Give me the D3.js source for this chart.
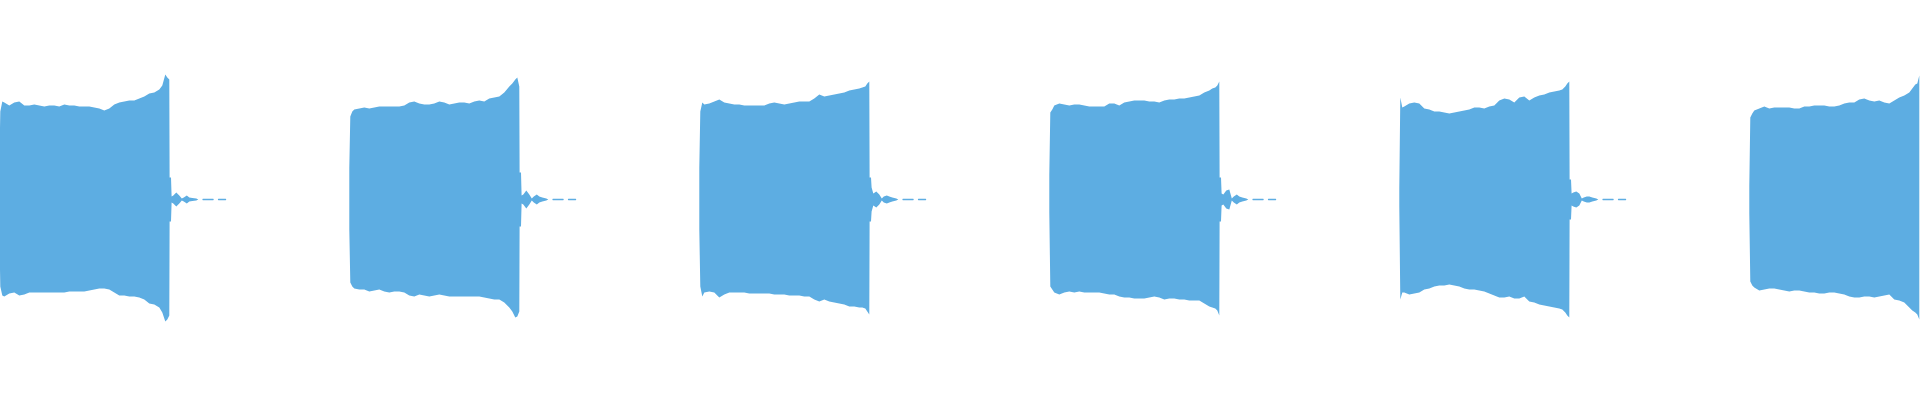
<!DOCTYPE html>
<html>
<head>
<meta charset="utf-8">
<script src="https://cdn.jsdelivr.net/npm/d3@7"></script>
<style>
    html, body { margin: 0; padding: 0; background: #ffffff; overflow: hidden; }
    #wave { width: 1920px; height: 400px; }
</style>
</head>
<body>
<div id="wave"></div>
<script>
(function() {

    // recording length and where each of the six notes starts (ms)
    var durationMs = 3840;
    var clipStarts = [0, 700, 1400, 2100, 2800, 3500];

    // offsets inside a note (ms) at which the peak envelope was read
    var bodyOffsets = [0, 2, 6, 10, 20, 30, 40, 50, 60, 70, 80, 90, 100, 110, 120, 130, 140, 150, 160,
                       170, 180, 190, 200, 210, 220, 230, 240, 250, 260, 270, 280, 290, 300, 310, 320,
                       326, 332, 336, 340];

    // ring-out after the note is cut (ms)
    var tailOffsets = [340.6, 343.4, 344.6, 348, 354, 360, 365, 369, 375, 380, 386, 394, 398,
                       406, 407, 428, 429, 437, 438, 453, 454];

    // peak levels, % of full scale (max above zero / min below zero)
    var clip1Top = [16, 44, 49, 48.5, 47, 48.5, 49, 47, 47, 47.5, 47, 46.5, 47, 47, 46.5, 47.5, 47, 47, 46.5,
                    46.5, 46.5, 46, 45.5, 44.5, 45.5, 47.5, 48.5, 49, 49.5, 49.5, 50.5, 51.5, 53, 53.5, 55,
                    57, 62.5, 61, 60];
    var clip1Bottom = [-15, -43.5, -48, -48.5, -47, -46.5, -48, -47.5, -46.5, -46.5, -46.5, -46.5, -46.5, -46.5, -46.5, -46.5, -46, -46, -46,
                       -46, -45.5, -45, -44.5, -44.5, -45, -46.5, -48, -48, -48.5, -48.5, -49, -50, -52, -52.5, -54,
                       -56.5, -61, -60, -58];
    var clip1Tail = [11, 11, 1.5, 2, 3.5, 2, 0.5, 1, 2, 1, 0.75, 0.5, 0, 0, 0.4, 0.4, 0, 0, 0.4, 0.4, 0];

    var clip2Top = [16, 41.5, 44, 45, 45.5, 46, 45.5, 46, 46.5, 46.5, 46.5, 46.5, 46.5, 47, 48.5, 49, 48, 47.5, 47.5,
                    48, 49, 48.5, 47.5, 48, 48.5, 48.5, 48, 49, 49.5, 49, 50.5, 51, 51.5, 53.5, 56.5,
                    58, 60, 61, 56.5];
    var clip2Bottom = [-15, -41.5, -43.5, -44.5, -45, -45, -46, -45.5, -45, -46, -46.5, -46, -46, -46.5, -48, -48.5, -47.5, -48, -48.5,
                       -48, -47.5, -48, -48.5, -48.5, -48.5, -48.5, -48.5, -48.5, -48.5, -49, -49.5, -50, -50, -51.5, -54,
                       -56, -59, -58.5, -56];
    var clip2Tail = [13.5, 13.5, 2, 2.5, 4.5, 2.5, 0.5, 1.5, 2.5, 1.5, 1, 0.5, 0, 0, 0.4, 0.4, 0, 0, 0.4, 0.4, 0];

    var clip3Top = [16, 44, 48.5, 47.5, 48, 49, 50, 48.5, 48, 47.5, 47.5, 47, 47, 47, 47, 47, 48, 48.5, 48,
                    47.5, 48, 48.5, 49, 49, 49, 50.5, 52.5, 51.5, 52, 52.5, 53, 53.5, 54.5, 55, 55.5,
                    56, 56.5, 58, 59];
    var clip3Bottom = [-15, -43.5, -48.5, -46.5, -46, -46.5, -49, -47.5, -46.5, -46.5, -46.5, -46.5, -47, -47, -47, -47, -47, -47.5, -47.5,
                       -47.5, -48, -48, -48, -48.5, -48.5, -50, -51, -50, -51, -51.5, -52, -52.5, -53.5, -53.5, -54,
                       -54, -54.5, -56, -57.5];
    var clip3Tail = [11, 11, 6, 3, 4, 2.5, 0.5, 1.5, 2, 1.5, 1, 0.5, 0, 0, 0.4, 0.4, 0, 0, 0.4, 0.4, 0];

    var clip4Top = [12.5, 43.5, 45, 47, 48, 47.5, 47, 47.5, 47.5, 47, 46.5, 46.5, 46.5, 46.5, 48, 48, 47, 48.5, 49,
                    49.5, 49.5, 49.5, 49, 49, 48.5, 49.5, 50, 50, 50.5, 50.5, 51, 51.5, 52, 53.5, 54.5,
                    55.5, 56, 57, 59];
    var clip4Bottom = [-6.5, -43.5, -45, -46.5, -47.5, -46.5, -46, -46.5, -46, -46.5, -46.5, -46.5, -46.5, -47, -47.5, -47.5, -48.5, -49, -49,
                       -49.5, -49.5, -49.5, -49, -48.5, -49, -50, -49.5, -49.5, -50, -50, -50.5, -50.5, -50.5, -52, -53.5,
                       -54, -54.5, -55.5, -58];
    var clip4Tail = [11, 11, 3, 2.5, 4.5, 5, 0.5, 1.5, 2.5, 1.5, 1, 0.5, 0, 0, 0.4, 0.4, 0, 0, 0.4, 0.4, 0];

    var clip5Top = [6, 51, 46, 46.5, 48, 48.5, 48, 45.5, 45, 44, 44, 43.5, 43, 43.5, 44, 44.5, 45, 46, 46,
                    45.5, 46.5, 47, 49.5, 50.5, 50, 48.5, 51, 51.5, 49.5, 51, 52, 52.5, 53.5, 54, 54.5,
                    55, 56.5, 58, 59];
    var clip5Bottom = [-3.5, -50, -46.5, -46.5, -47.5, -47, -46.5, -45, -44.5, -43.5, -43, -43, -42.5, -43, -43.5, -44.5, -45, -45, -45.5,
                       -46, -47, -48, -49, -49, -48.5, -49.5, -49.5, -48.5, -51, -51.5, -52.5, -53, -53.5, -54, -54.5,
                       -55, -56.5, -58, -59];
    var clip5Tail = [10, 10, 3, 3.5, 4, 3, 0.5, 1, 1.5, 1.5, 1, 0.5, 0, 0, 0.4, 0.4, 0, 0, 0.4, 0.4, 0];

    var clip6Top = [7, 41, 43, 44.5, 45.5, 46.5, 45.5, 46, 46, 46, 46, 45.5, 45.5, 46.5, 46.5, 47, 47, 47, 46.5,
                    46.5, 47, 48, 48.5, 48.5, 50, 50.5, 49.5, 49, 49.5, 48.5, 48, 49.5, 51, 52, 53.5,
                    55.5, 57.5, 58, 62];
    var clip6Bottom = [-7, -41, -43, -44, -45.5, -45, -44.5, -44.5, -45, -45.5, -46, -45.5, -45.5, -46, -46.5, -46.5, -47, -47, -46.5,
                       -46.5, -47, -47.5, -48.5, -49, -49, -48.5, -48.5, -49, -48.5, -48, -47.5, -50, -50.5, -51.5, -54,
                       -55.5, -56.5, -57.5, -60];

    var clips = [
        {start : clipStarts[0], top : clip1Top, bottom : clip1Bottom, tail : clip1Tail},
        {start : clipStarts[1], top : clip2Top, bottom : clip2Bottom, tail : clip2Tail},
        {start : clipStarts[2], top : clip3Top, bottom : clip3Bottom, tail : clip3Tail},
        {start : clipStarts[3], top : clip4Top, bottom : clip4Bottom, tail : clip4Tail},
        {start : clipStarts[4], top : clip5Top, bottom : clip5Bottom, tail : clip5Tail},
        {start : clipStarts[5], top : clip6Top, bottom : clip6Bottom, tail : null}
    ];

    var width = 1920,
        height = 400,
        waveColor = "#5dade2";

    var x = d3.scaleLinear()
              .domain([0, durationMs])
              .range([-0.7, width - 0.7]);

    var y = d3.scaleLinear()
              .domain([-100, 100])
              .range([height - 0.5, -0.5]);

    //turn one note into a list of {t, hi, lo} samples, body first then ring-out
    function samplesFor(clip) {
        var out = [];
        for (var i = 0; i < bodyOffsets.length; i += 1) {
            out.push({t : clip.start + bodyOffsets[i], hi : clip.top[i], lo : clip.bottom[i]});
        }
        if (clip.tail) {
            for (var j = 0; j < tailOffsets.length; j += 1) {
                out.push({t : clip.start + tailOffsets[j], hi : clip.tail[j], lo : -clip.tail[j]});
            }
        }
        return out;
    }

    var envelope = d3.area()
                     .x(function(d) {return x(d.t); })
                     .y0(function(d) {return y(d.lo); })
                     .y1(function(d) {return y(d.hi); })
                     .curve(d3.curveLinear);

    var svg = d3.select("#wave")
                .append("svg")
                .attr("width", width)
                .attr("height", height);

    svg.selectAll(".clipWave")
       .data(clips)
       .enter()
       .append("path")
       .attr("class", "clipWave")
       .attr("d", function(d) {return envelope(samplesFor(d)); })
       .style("fill", waveColor)
       .style("stroke", "none");

})();
</script>
</body>
</html>
